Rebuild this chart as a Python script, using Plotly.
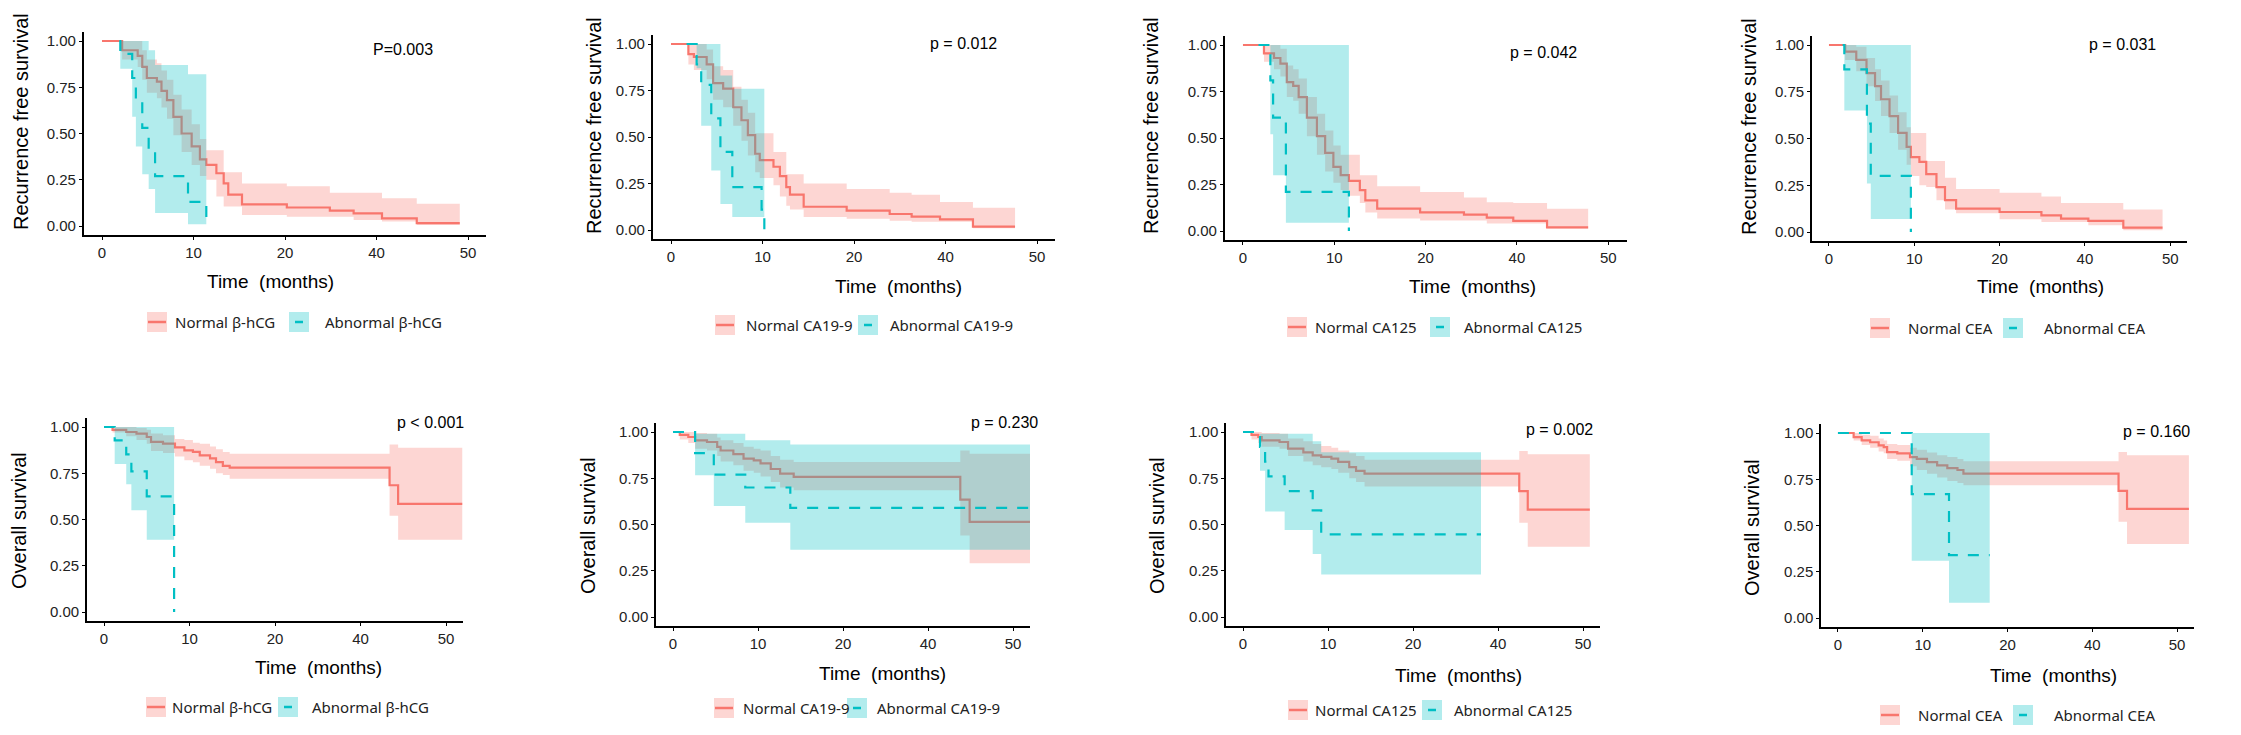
import plotly.graph_objects as go

W, H = 2241, 735
RED = "#F8766D"
CYAN = "#00BFC4"
RED_FILL = "rgba(248,118,109,0.3)"
CYAN_FILL = "rgba(0,191,196,0.3)"

# x values are axis positions: ticks sit at 0,10,20,30,40 but are labelled 0,10,20,40,50 in the source
tick_pos = [0, 10, 20, 30, 40]
tick_txt = ["0", "10", "20", "40", "50"]

# ---------- recurrence free survival : beta-hCG ----------
rfs_hcg_norm_t = [0, 2.2, 3.9, 4.4, 4.9, 6.0, 6.5, 7.1, 7.8, 8.7, 9.8, 10.7, 11.4, 12.5, 13.3, 13.8, 15.3, 20.2, 24.9, 27.5, 30.6, 34.4, 39.1]
rfs_hcg_norm_s = [1.0, 0.95, 0.92, 0.86, 0.80, 0.78, 0.73, 0.68, 0.59, 0.50, 0.43, 0.36, 0.33, 0.285, 0.23, 0.17, 0.117, 0.10, 0.083, 0.068, 0.041, 0.015, 0.015]
rfs_hcg_norm_lo = [1.0, 0.90, 0.86, 0.79, 0.72, 0.69, 0.64, 0.58, 0.49, 0.40, 0.33, 0.27, 0.25, 0.16, 0.105, 0.105, 0.06, 0.05, 0.05, 0.032, 0.024, 0.005, 0.005]
rfs_hcg_norm_hi = [1.0, 1.0, 1.0, 0.95, 0.90, 0.88, 0.84, 0.79, 0.71, 0.63, 0.55, 0.47, 0.41, 0.41, 0.29, 0.29, 0.23, 0.215, 0.18, 0.18, 0.15, 0.12, 0.12]
rfs_hcg_abn_t = [1.9, 2.0, 3.3, 3.7, 4.4, 5.1, 5.8, 9.4, 11.4]
rfs_hcg_abn_s = [1.0, 0.93, 0.80, 0.67, 0.53, 0.40, 0.27, 0.13, 0.0]
rfs_hcg_abn_lo = [1.0, 0.85, 0.59, 0.43, 0.28, 0.20, 0.07, 0.01, 0.01]
rfs_hcg_abn_hi = [1.0, 1.0, 1.0, 1.0, 1.0, 0.95, 0.87, 0.82, 0.82]

# ---------- recurrence free survival : CA19-9 ----------
rfs_ca199_norm_t = [0, 1.9, 2.5, 3.9, 4.6, 5.7, 6.8, 7.7, 8.4, 9.2, 9.7, 11.2, 11.9, 12.6, 13.0, 14.5, 19.2, 23.9, 26.3, 29.4, 33.0, 37.6]
rfs_ca199_norm_s = [1.0, 0.946, 0.93, 0.89, 0.79, 0.76, 0.66, 0.59, 0.51, 0.41, 0.376, 0.34, 0.29, 0.23, 0.19, 0.125, 0.104, 0.086, 0.072, 0.057, 0.018, 0.018]
rfs_ca199_norm_lo = [1.0, 0.89, 0.86, 0.81, 0.70, 0.66, 0.56, 0.48, 0.40, 0.31, 0.28, 0.24, 0.18, 0.13, 0.11, 0.07, 0.06, 0.05, 0.045, 0.045, 0.01, 0.01]
rfs_ca199_norm_hi = [1.0, 1.0, 1.0, 0.97, 0.88, 0.86, 0.77, 0.70, 0.63, 0.52, 0.52, 0.42, 0.42, 0.30, 0.30, 0.25, 0.22, 0.20, 0.19, 0.15, 0.12, 0.12]
rfs_ca199_abn_t = [1.7, 2.8, 3.3, 4.4, 5.4, 6.7, 9.9, 10.2]
rfs_ca199_abn_s = [1.0, 0.89, 0.78, 0.60, 0.42, 0.23, 0.11, 0.0]
rfs_ca199_abn_lo = [1.0, 0.87, 0.56, 0.32, 0.14, 0.07, 0.07, 0.07]
rfs_ca199_abn_hi = [1.0, 1.0, 1.0, 1.0, 0.83, 0.76, 0.76, 0.76]

# ---------- recurrence free survival : CA125 ----------
rfs_ca125_norm_t = [0, 2.3, 3.4, 4.1, 4.8, 5.5, 6.1, 7.0, 8.1, 9.0, 9.9, 10.7, 11.6, 12.8, 13.4, 14.7, 19.4, 24.2, 26.7, 29.6, 33.3, 37.8]
rfs_ca125_norm_s = [1.0, 0.955, 0.93, 0.90, 0.80, 0.78, 0.72, 0.61, 0.51, 0.42, 0.345, 0.30, 0.27, 0.22, 0.165, 0.12, 0.10, 0.088, 0.072, 0.054, 0.02, 0.02]
rfs_ca125_norm_lo = [1.0, 0.91, 0.87, 0.83, 0.72, 0.70, 0.63, 0.51, 0.41, 0.32, 0.26, 0.22, 0.19, 0.15, 0.10, 0.067, 0.057, 0.057, 0.04, 0.04, 0.013, 0.013]
rfs_ca125_norm_hi = [1.0, 1.0, 1.0, 0.98, 0.89, 0.87, 0.82, 0.72, 0.63, 0.54, 0.46, 0.41, 0.41, 0.30, 0.30, 0.24, 0.21, 0.18, 0.155, 0.15, 0.12, 0.12]
rfs_ca125_abn_t = [1.7, 3.0, 3.3, 4.7, 11.6]
rfs_ca125_abn_s = [1.0, 0.81, 0.61, 0.21, 0.0]
rfs_ca125_abn_lo = [1.0, 0.52, 0.30, 0.045, 0.045]
rfs_ca125_abn_hi = [1.0, 1.0, 1.0, 1.0, 1.0]

# ---------- recurrence free survival : CEA ----------
rfs_cea_norm_t = [0, 1.9, 3.2, 4.4, 5.4, 6.1, 7.1, 8.1, 9.1, 9.6, 10.6, 11.4, 12.6, 13.6, 14.9, 20.0, 24.9, 27.2, 30.4, 34.5, 39.1]
rfs_cea_norm_s = [1.0, 0.965, 0.92, 0.85, 0.78, 0.71, 0.62, 0.53, 0.455, 0.40, 0.375, 0.31, 0.24, 0.17, 0.125, 0.107, 0.089, 0.071, 0.059, 0.023, 0.023]
rfs_cea_norm_lo = [1.0, 0.92, 0.86, 0.78, 0.70, 0.62, 0.53, 0.44, 0.36, 0.30, 0.25, 0.24, 0.17, 0.12, 0.10, 0.068, 0.054, 0.054, 0.036, 0.009, 0.009]
rfs_cea_norm_hi = [1.0, 1.0, 0.99, 0.93, 0.87, 0.81, 0.73, 0.64, 0.56, 0.53, 0.53, 0.38, 0.38, 0.29, 0.23, 0.21, 0.19, 0.155, 0.155, 0.12, 0.12]
rfs_cea_abn_t = [1.6, 1.8, 4.45, 4.9, 9.6]
rfs_cea_abn_s = [1.0, 0.87, 0.58, 0.30, 0.0]
rfs_cea_abn_lo = [1.0, 0.65, 0.26, 0.07, 0.07]
rfs_cea_abn_hi = [1.0, 1.0, 1.0, 1.0, 1.0]

# ---------- overall survival : beta-hCG ----------
os_hcg_norm_t = [0, 1.0, 2.6, 3.8, 5.0, 5.5, 6.9, 8.3, 9.4, 10.4, 11.2, 12.4, 13.1, 13.9, 14.7, 33.4, 34.4, 41.9]
os_hcg_norm_s = [1.0, 0.985, 0.973, 0.964, 0.946, 0.92, 0.91, 0.89, 0.874, 0.865, 0.847, 0.83, 0.81, 0.79, 0.78, 0.685, 0.585, 0.585]
os_hcg_norm_lo = [1.0, 0.97, 0.95, 0.93, 0.91, 0.87, 0.86, 0.84, 0.82, 0.81, 0.79, 0.775, 0.75, 0.74, 0.72, 0.52, 0.39, 0.39]
os_hcg_norm_hi = [1.0, 1.0, 1.0, 0.995, 0.985, 0.965, 0.955, 0.935, 0.93, 0.915, 0.91, 0.895, 0.88, 0.865, 0.856, 0.906, 0.888, 0.888]
os_hcg_abn_t = [0, 1.25, 2.6, 3.2, 5.0, 8.2]
os_hcg_abn_s = [1.0, 0.928, 0.852, 0.76, 0.625, 0.0]
os_hcg_abn_lo = [1.0, 0.80, 0.69, 0.55, 0.39, 0.39]
os_hcg_abn_hi = [1.0, 1.0, 1.0, 1.0, 1.0, 1.0]

# ---------- overall survival : CA19-9 ----------
os_ca199_norm_t = [0, 0.8, 1.8, 2.6, 4.0, 5.2, 5.6, 7.1, 8.3, 9.5, 10.3, 11.5, 12.6, 14.2, 33.8, 34.9, 42.4]
os_ca199_norm_s = [1.0, 0.985, 0.973, 0.955, 0.946, 0.92, 0.90, 0.88, 0.856, 0.847, 0.83, 0.80, 0.775, 0.757, 0.634, 0.514, 0.514]
os_ca199_norm_lo = [1.0, 0.96, 0.94, 0.91, 0.90, 0.87, 0.84, 0.82, 0.79, 0.78, 0.76, 0.73, 0.70, 0.685, 0.44, 0.29, 0.29]
os_ca199_norm_hi = [1.0, 1.0, 1.0, 0.995, 0.99, 0.97, 0.955, 0.94, 0.92, 0.91, 0.90, 0.87, 0.85, 0.838, 0.90, 0.883, 0.883]
os_ca199_abn_t = [0, 2.6, 4.8, 8.5, 13.8, 42.4]
os_ca199_abn_s = [1.0, 0.886, 0.77, 0.70, 0.59, 0.59]
os_ca199_abn_lo = [1.0, 0.766, 0.60, 0.51, 0.364, 0.364]
os_ca199_abn_hi = [1.0, 0.99, 0.99, 0.955, 0.933, 0.933]

# ---------- overall survival : CA125 ----------
os_ca125_norm_t = [0, 1.0, 1.8, 2.2, 4.3, 5.3, 7.1, 8.2, 9.2, 10.4, 11.2, 12.5, 13.3, 14.3, 32.5, 33.5, 40.8]
os_ca125_norm_s = [1.0, 0.985, 0.973, 0.955, 0.946, 0.91, 0.89, 0.874, 0.865, 0.856, 0.838, 0.81, 0.79, 0.775, 0.68, 0.58, 0.58]
os_ca125_norm_lo = [1.0, 0.96, 0.94, 0.92, 0.91, 0.87, 0.84, 0.82, 0.81, 0.80, 0.78, 0.75, 0.73, 0.706, 0.51, 0.38, 0.38]
os_ca125_norm_hi = [1.0, 1.0, 1.0, 0.995, 0.99, 0.965, 0.95, 0.935, 0.925, 0.915, 0.90, 0.885, 0.87, 0.85, 0.897, 0.88, 0.88]
os_ca125_abn_t = [0, 2.0, 2.6, 3.0, 4.9, 8.2, 9.2, 28.0]
os_ca125_abn_s = [1.0, 0.92, 0.84, 0.76, 0.68, 0.576, 0.447, 0.447]
os_ca125_abn_lo = [1.0, 0.79, 0.57, 0.57, 0.47, 0.34, 0.23, 0.23]
os_ca125_abn_hi = [1.0, 0.99, 0.99, 0.99, 0.99, 0.95, 0.89, 0.89]

# ---------- overall survival : CEA ----------
os_cea_norm_t = [0, 1.85, 2.8, 3.8, 4.8, 5.4, 5.8, 7.0, 8.5, 9.3, 10.5, 11.7, 12.9, 14.1, 14.8, 33.1, 34.1, 41.4]
os_cea_norm_s = [1.0, 0.978, 0.96, 0.95, 0.933, 0.924, 0.897, 0.89, 0.87, 0.86, 0.843, 0.825, 0.81, 0.80, 0.78, 0.687, 0.59, 0.59]
os_cea_norm_lo = [1.0, 0.96, 0.935, 0.92, 0.90, 0.89, 0.86, 0.85, 0.82, 0.80, 0.78, 0.76, 0.74, 0.73, 0.717, 0.52, 0.40, 0.40]
os_cea_norm_hi = [1.0, 1.0, 0.99, 0.985, 0.97, 0.96, 0.94, 0.935, 0.92, 0.91, 0.895, 0.88, 0.87, 0.86, 0.847, 0.897, 0.88, 0.88]
os_cea_abn_t = [0, 8.7, 13.1, 17.9]
os_cea_abn_s = [1.0, 0.67, 0.34, 0.34]
os_cea_abn_lo = [1.0, 0.31, 0.083, 0.083]
os_cea_abn_hi = [1.0, 1.0, 1.0, 1.0]

p_values = ["P=0.003", "p = 0.012", "p = 0.042", "p = 0.031",
            "p < 0.001", "p = 0.230", "p = 0.002", "p = 0.160"]
markers = ["β-hCG", "CA19-9", "CA125", "CEA"]

curves = [
    ((rfs_hcg_norm_t, rfs_hcg_norm_s, rfs_hcg_norm_lo, rfs_hcg_norm_hi), (rfs_hcg_abn_t, rfs_hcg_abn_s, rfs_hcg_abn_lo, rfs_hcg_abn_hi)),
    ((rfs_ca199_norm_t, rfs_ca199_norm_s, rfs_ca199_norm_lo, rfs_ca199_norm_hi), (rfs_ca199_abn_t, rfs_ca199_abn_s, rfs_ca199_abn_lo, rfs_ca199_abn_hi)),
    ((rfs_ca125_norm_t, rfs_ca125_norm_s, rfs_ca125_norm_lo, rfs_ca125_norm_hi), (rfs_ca125_abn_t, rfs_ca125_abn_s, rfs_ca125_abn_lo, rfs_ca125_abn_hi)),
    ((rfs_cea_norm_t, rfs_cea_norm_s, rfs_cea_norm_lo, rfs_cea_norm_hi), (rfs_cea_abn_t, rfs_cea_abn_s, rfs_cea_abn_lo, rfs_cea_abn_hi)),
    ((os_hcg_norm_t, os_hcg_norm_s, os_hcg_norm_lo, os_hcg_norm_hi), (os_hcg_abn_t, os_hcg_abn_s, os_hcg_abn_lo, os_hcg_abn_hi)),
    ((os_ca199_norm_t, os_ca199_norm_s, os_ca199_norm_lo, os_ca199_norm_hi), (os_ca199_abn_t, os_ca199_abn_s, os_ca199_abn_lo, os_ca199_abn_hi)),
    ((os_ca125_norm_t, os_ca125_norm_s, os_ca125_norm_lo, os_ca125_norm_hi), (os_ca125_abn_t, os_ca125_abn_s, os_ca125_abn_lo, os_ca125_abn_hi)),
    ((os_cea_norm_t, os_cea_norm_s, os_cea_norm_lo, os_cea_norm_hi), (os_cea_abn_t, os_cea_abn_s, os_cea_abn_lo, os_cea_abn_hi)),
]

# layout in pixels: plot box (left, right, top, bottom), y title, p text, x title, legend
boxes = [(83.7, 486.3, 31.75, 235.25), (652.7, 1055.3, 34.7, 239.3), (1224.7, 1626.5, 35.7, 240.3), (1811.9, 2187.3, 35.65, 241.35),
         (86.9, 463.1, 417.75, 621.25), (656, 1030, 422.75, 626.25), (1226, 1600, 422.75, 626.25), (1821, 2194, 423.75, 627.25)]
ytitle_xy = [(21, 122), (594, 126), (1151, 126), (1749, 127), (19, 521), (588, 526), (1157, 526), (1752, 528)]
ptext_xy = [(403, 50), (963, 43), (1543, 52), (2122, 45), (430, 422), (1004, 422), (1559, 429), (2156, 431)]
xtitle_xy = [(270, 282), (899, 287), (1472, 287), (2040, 287), (318, 667), (882, 673), (1458, 675), (2053, 675)]
# legend: centre y, red key left, red text left, cyan key left, cyan text left
legend_px = [(322, 147, 173, 289, 323), (325, 715, 744, 858, 888), (327, 1287, 1313, 1430, 1462), (328, 1870, 1906, 2003, 2042),
             (707, 146, 170, 278, 310), (708, 714, 741, 847, 875), (710, 1288, 1313, 1422, 1452), (715, 1880, 1916, 2013, 2052)]

def px(x):
    return x / W

def py(y):
    return 1 - y / H

fig = go.Figure()
layout = dict(width=W, height=H, margin=dict(l=0, r=0, t=0, b=0),
              paper_bgcolor="white", plot_bgcolor="white", showlegend=False)
annotations = []
shapes = []
axis_font = dict(family="Liberation Sans, Arial", size=15, color="#222222")

for i in range(8):
    n = i + 1
    xa = "x" if n == 1 else f"x{n}"
    ya = "y" if n == 1 else f"y{n}"
    styles = ((RED, RED_FILL, "solid"), (CYAN, CYAN_FILL, "11px,10px"))
    for (t, s, lo, hi), (col, fillcol, dash) in zip(curves[i], styles):
        fig.add_trace(go.Scatter(x=t, y=lo, xaxis=xa, yaxis=ya, mode="lines",
                                 line=dict(width=0, shape="hv", color=fillcol), hoverinfo="skip"))
        fig.add_trace(go.Scatter(x=t, y=hi, xaxis=xa, yaxis=ya, mode="lines", fill="tonexty",
                                 fillcolor=fillcol, line=dict(width=0, shape="hv", color=fillcol), hoverinfo="skip"))
        fig.add_trace(go.Scatter(x=t, y=s, xaxis=xa, yaxis=ya, mode="lines",
                                 line=dict(color=col, width=2.2, shape="hv", dash=dash)))

    l, r, top, bot = boxes[i]
    common = dict(showgrid=False, zeroline=False, showline=True, linecolor="black", linewidth=1.5,
                  ticks="outside", ticklen=3, tickwidth=1.2, tickcolor="black", tickfont=axis_font)
    layout["xaxis" if n == 1 else f"xaxis{n}"] = dict(domain=[px(l), px(r)], anchor=ya, range=[-2, 42],
                                                       tickvals=tick_pos, ticktext=tick_txt, **common)
    layout["yaxis" if n == 1 else f"yaxis{n}"] = dict(domain=[py(bot), py(top)], anchor=xa, range=[-0.05, 1.05],
                                                       tickvals=[0, 0.25, 0.5, 0.75, 1.0],
                                                       ticktext=["0.00", "0.25", "0.50", "0.75", "1.00"], **common)

    ytitle = "Recurrence free survival" if i < 4 else "Overall survival"
    annotations.append(dict(x=px(ytitle_xy[i][0]), y=py(ytitle_xy[i][1]), xref="paper", yref="paper",
                            text=ytitle, textangle=-90, showarrow=False, xanchor="center", yanchor="middle",
                            font=dict(family="Liberation Sans, Arial", size=20, color="black")))
    annotations.append(dict(x=px(xtitle_xy[i][0]), y=py(xtitle_xy[i][1]), xref="paper", yref="paper",
                            text="Time&nbsp; (months)", showarrow=False, xanchor="center", yanchor="middle",
                            font=dict(family="Liberation Sans, Arial", size=19, color="black")))
    annotations.append(dict(x=px(ptext_xy[i][0]), y=py(ptext_xy[i][1]), xref="paper", yref="paper",
                            text=p_values[i], showarrow=False, xanchor="center", yanchor="middle",
                            font=dict(family="Liberation Sans, Arial", size=16, color="black")))

    # legend keys drawn like ggplot: filled square with the line through it
    cy, rk, rt, ck, ct = legend_px[i]
    marker = markers[i % 4]
    for kx, col, fillcol, seg in ((rk, RED, RED_FILL, (1, 19)), (ck, CYAN, CYAN_FILL, (6, 14))):
        shapes.append(dict(type="rect", xref="paper", yref="paper", x0=px(kx), x1=px(kx + 20),
                           y0=py(cy + 10), y1=py(cy - 10), fillcolor=fillcol, line=dict(width=0)))
        shapes.append(dict(type="line", xref="paper", yref="paper", x0=px(kx + seg[0]), x1=px(kx + seg[1]),
                           y0=py(cy), y1=py(cy), line=dict(color=col, width=2.5)))
    for tx, label in ((rt, f"Normal {marker}"), (ct, f"Abnormal {marker}")):
        annotations.append(dict(x=px(tx), y=py(cy), xref="paper", yref="paper", text=label,
                                showarrow=False, xanchor="left", yanchor="middle",
                                font=dict(family="Noto Sans", size=15, color="#222222")))

layout["annotations"] = annotations
layout["shapes"] = shapes
fig.update_layout(**layout)

fig.write_html("out.html", config={"displayModeBar": False},
               post_script="document.body.style.margin='0';")
